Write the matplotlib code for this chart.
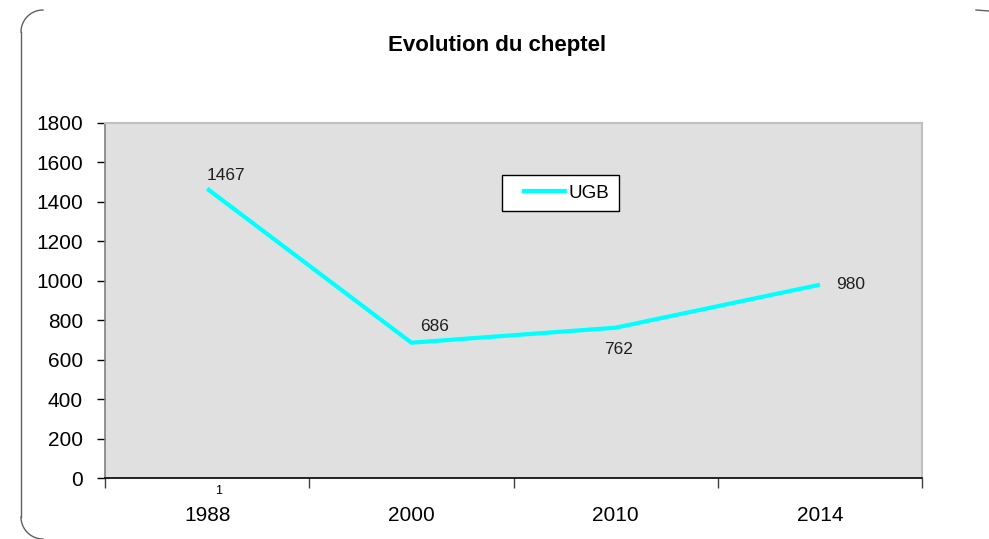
import numpy as np
import matplotlib
matplotlib.use("Agg")
import matplotlib.pyplot as plt
from matplotlib.lines import Line2D

# Data
years = ["1988", "2000", "2010", "2014"]
ugb = [1467, 686, 762, 980]
series_name = "UGB"
title = "Evolution du cheptel"

plt.rcParams["font.family"] = ["Liberation Sans", "DejaVu Sans"]

W, H = 989, 539
fig = plt.figure(figsize=(W / 100, H / 100), dpi=100)

def px(x, y):
    return x / W, 1 - y / H

# plot area in pixels
left, right, top, bottom = 105, 922, 123, 478
ax = fig.add_axes([left / W, 1 - bottom / H, (right - left) / W, (bottom - top) / H])
ax.set_facecolor("#e0e0e0")

x = np.arange(len(years))
ax.plot(x, ugb, color="#00ffff", lw=3, solid_capstyle="butt")

ax.set_xlim(-0.5, len(years) - 0.5)
ax.set_ylim(0, 1800)
ax.set_yticks(np.arange(0, 1801, 200))
ax.tick_params(axis="y", direction="out", length=6, width=1, labelsize=15, pad=10, color="black")

# category boundaries as ticks, labels centred
ax.set_xticks(np.arange(-0.5, len(years), 1))
ax.set_xticklabels([])
ax.set_xticks(x, minor=True)
ax.set_xticklabels(years, minor=True)
ax.tick_params(axis="x", which="major", direction="out", length=7, width=1, color="#404040")
ax.tick_params(axis="x", which="minor", length=0, labelsize=15, pad=20)

for s in ["top", "right"]:
    ax.spines[s].set_color("#c0c0c0")
    ax.spines[s].set_linewidth(1.5)
ax.spines["left"].set_color("#808080")
ax.spines["left"].set_linewidth(1.2)
ax.spines["bottom"].set_color("black")
ax.spines["bottom"].set_linewidth(1.2)

# data labels
offsets = [(0, 4, "left", "bottom"), (6, 6, "left", "bottom"),
           (-8, -10, "left", "top"), (12, 0, "left", "center")]
for xi, v, (dx, dy, ha, va) in zip(x, ugb, offsets):
    ax.annotate(str(v), (xi, v), xytext=(dx, dy), textcoords="offset points",
                ha=ha, va=va, fontsize=12.5, color="#202020")

# stray "1" above the first category label
fig.text(*px(219, 491), "1", fontsize=9, ha="center", va="center")

# legend handle: leading gap then line (dash pattern in linewidth units)
handle = Line2D([], [], color="#00ffff", lw=3, dash_capstyle="butt",
                linestyle=(0, (0.001, 2.6, 10.8, 60)))
leg = ax.legend([handle], [series_name], loc="upper left",
                bbox_to_anchor=((502 - left) / (right - left), 1 - (175 - top) / (bottom - top)),
                frameon=True, fancybox=False, fontsize=13.5, handlelength=3.0,
                handletextpad=0.05, borderpad=0.5, borderaxespad=0)
leg.get_frame().set_edgecolor("black")
leg.get_frame().set_linewidth(1)
leg.get_frame().set_facecolor("white")
leg.get_frame().set_alpha(1)

fig.text(*px(497, 46), title, fontsize=16, fontweight="bold", ha="center", va="center")

# partial rounded frame of the chart area
t = np.linspace(0, np.pi / 2, 20)
r = 22
cx, cy = 21 + r, 10 + r
xs = [cx - r * np.cos(a) for a in t]
ys = [cy - r * np.sin(a) for a in t]
fig.add_artist(Line2D([v / W for v in xs], [1 - v / H for v in ys], color="#606060", lw=1))
fig.add_artist(Line2D([21 / W, 21 / W], [1 - 32 / H, 1 - 517 / H], color="#606060", lw=1))
cy2 = 539 - r
ys = [cy2 + r * np.sin(a) for a in t]
fig.add_artist(Line2D([v / W for v in xs], [1 - v / H for v in ys], color="#606060", lw=1))
fig.add_artist(Line2D([976 / W, 989 / W], [1 - 10 / H, 1 - 11 / H], color="#606060", lw=1))

fig.savefig("out.png", dpi=100)
